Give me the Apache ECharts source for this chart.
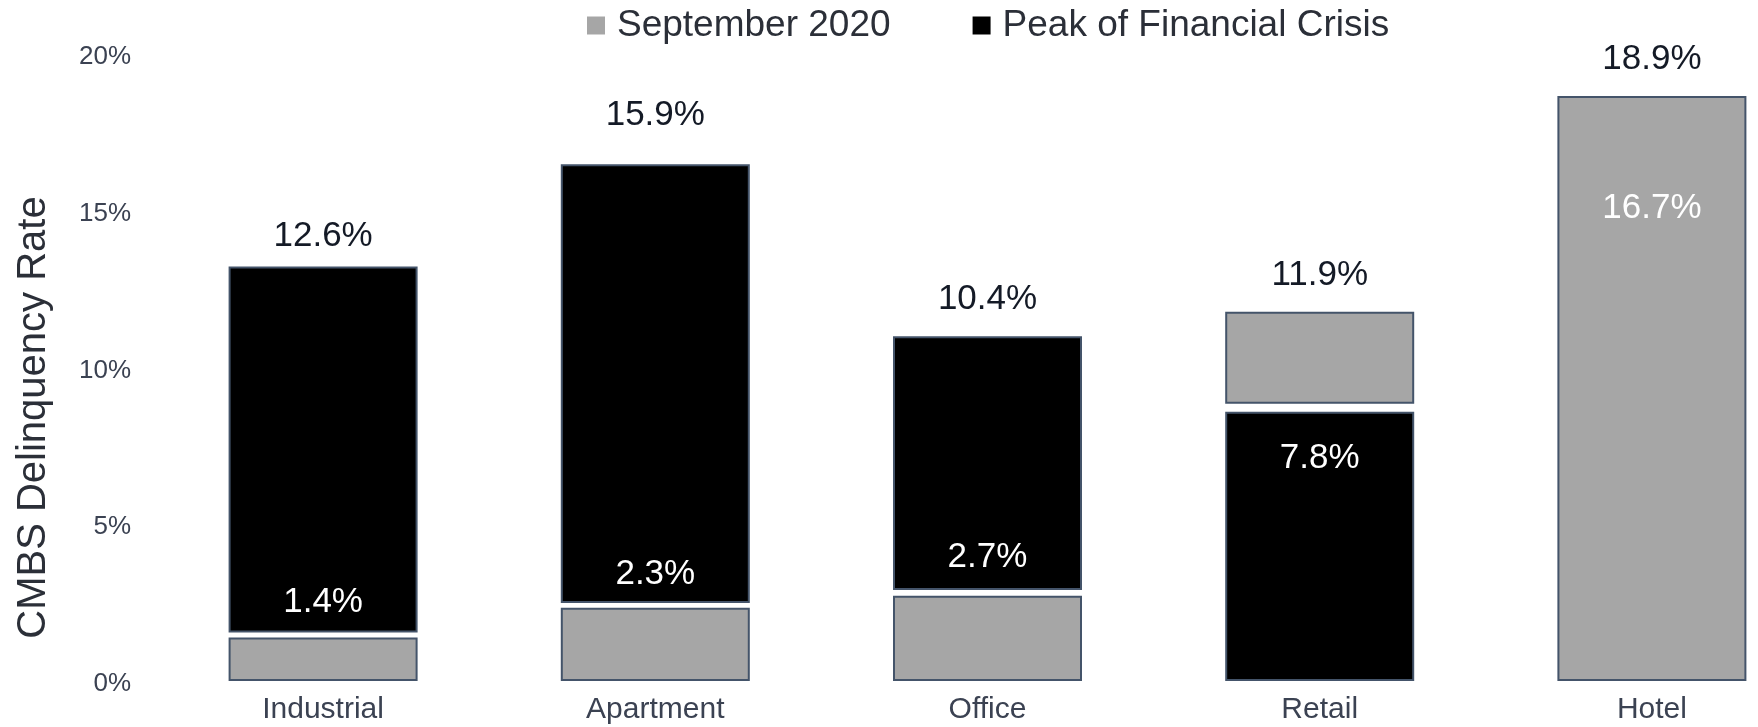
<!DOCTYPE html>
<html>
<head>
<meta charset="utf-8">
<script src="https://cdn.jsdelivr.net/npm/echarts@6/dist/echarts.min.js"></script>
<style>
html,body{margin:0;padding:0;background:#fff;}
#chart{width:1758px;height:727px;}
</style>
</head>
<body>
<div id="chart"></div>
<script>
// ---- data ----
const categories = ['Industrial', 'Apartment', 'Office', 'Retail', 'Hotel'];
// printed values
const septLabels = [1.4, 2.3, 2.7, 11.9, 18.9];
const peakLabels = [12.6, 15.9, 10.4, 7.8, 16.7];
// bar extents as drawn (in % on the axis)
const septFrom = [0, 0, 0, 8.84, 0];
const septTo = [1.39, 2.34, 2.72, 11.78, 18.66];
const peakFrom = [1.55, 2.49, 2.90, 0, null];
const peakTo = [13.22, 16.48, 11.0, 8.59, null];
const yTicks = [0, 5, 10, 15, 20];

// ---- styles / layout ----
const FONT = 'Liberation Sans, Arial, sans-serif';
const GRAY = '#a6a6a6';
const BLACK = '#000000';
const BORDER = '#44546a';
const DARK = '#141a26';
const AXIS_TXT = '#3b4252';
const LBL = 35;
const topGap = [13, 32, 19, 19, 19];      // distance of outer label above bar top
const innerGap = [13, 11, 15, 29, 95];    // distance of inner label from bar edge

function fmt(v){ return v.toFixed(1) + '%'; }

const septBase = septFrom.map((v, i) => {
  const item = { value: v, itemStyle: { color: 'transparent', borderWidth: 0 } };
  if (i === 4) {
    // Hotel: peak value printed inside the gray bar
    item.label = { show: true, position: 'top', distance: 681 - 96 - innerGap[i] - LBL,
      formatter: fmt(peakLabels[i]), color: '#ffffff', fontSize: LBL, fontFamily: FONT };
  }
  return item;
});
const septSeg = septTo.map((v, i) => {
  const item = { value: +(v - septFrom[i]).toFixed(3) };
  if (i >= 3) {
    item.label = { show: true, position: 'top', distance: topGap[i],
      formatter: fmt(septLabels[i]), color: DARK, fontSize: LBL, fontFamily: FONT };
  }
  return item;
});
const peakBase = peakFrom.map((v, i) => {
  if (v === null) return '-';
  const item = { value: v, itemStyle: { color: 'transparent', borderWidth: 0 } };
  if (i < 3) {
    item.label = { show: true, position: 'top', distance: innerGap[i],
      formatter: fmt(septLabels[i]), color: '#ffffff', fontSize: LBL, fontFamily: FONT };
  }
  return item;
});
const peakSeg = peakTo.map((v, i) => {
  if (v === null) return '-';
  const item = { value: +(v - peakFrom[i]).toFixed(3) };
  if (i < 3) {
    item.label = { show: true, position: 'top', distance: topGap[i],
      formatter: fmt(peakLabels[i]), color: DARK, fontSize: LBL, fontFamily: FONT };
  } else {
    item.label = { show: true, position: 'insideTop', distance: innerGap[i],
      formatter: fmt(peakLabels[i]), color: '#ffffff', fontSize: LBL, fontFamily: FONT };
  }
  return item;
});

const barCommon = { type: 'bar', barWidth: 189, barGap: '-100%', animation: false };

const option = {
  backgroundColor: '#ffffff',
  animation: false,
  legend: {
    data: ['September 2020', 'Peak of Financial Crisis'],
    left: 582, top: 2,
    icon: 'rect', itemWidth: 18, itemHeight: 18, itemGap: 82,
    itemStyle: { borderWidth: 0 },
    textStyle: { fontSize: 37, fontFamily: FONT, color: '#2b2f38', padding: [0, 0, 0, 7] }
  },
  grid: { left: 157, top: 54, height: 627, width: 1661, outerBoundsMode: 'none', containLabel: false },
  xAxis: {
    type: 'category', data: categories,
    axisLine: { show: false }, axisTick: { show: false },
    axisLabel: { fontSize: 30, fontFamily: FONT, color: AXIS_TXT, margin: 14 }
  },
  yAxis: {
    type: 'value', min: yTicks[0], max: yTicks[yTicks.length - 1], interval: 5,
    splitLine: { show: false }, axisLine: { show: false }, axisTick: { show: false },
    axisLabel: { formatter: '{value}%', fontSize: 26, fontFamily: FONT, color: AXIS_TXT, margin: 26,
      verticalAlign: 'top', lineHeight: 6 },
    name: 'CMBS Delinquency Rate', nameLocation: 'middle', nameRotate: 90, nameGap: 103,
    nameTextStyle: { fontSize: 40, fontFamily: FONT, color: '#2b2f38', padding: [0, 100, 0, 0] }
  },
  series: [
    Object.assign({}, barCommon, { name: 'sept-base', stack: 'S', data: septBase, silent: true }),
    Object.assign({}, barCommon, { name: 'September 2020', stack: 'S', data: septSeg,
      itemStyle: { color: GRAY, borderColor: BORDER, borderWidth: 2 } }),
    Object.assign({}, barCommon, { name: 'peak-base', stack: 'P', data: peakBase, silent: true }),
    Object.assign({}, barCommon, { name: 'Peak of Financial Crisis', stack: 'P', data: peakSeg,
      itemStyle: { color: BLACK, borderColor: BORDER, borderWidth: 2 } })
  ]
};

const chart = echarts.init(document.getElementById('chart'), null, { renderer: 'canvas' });
chart.setOption(option);
</script>
</body>
</html>
